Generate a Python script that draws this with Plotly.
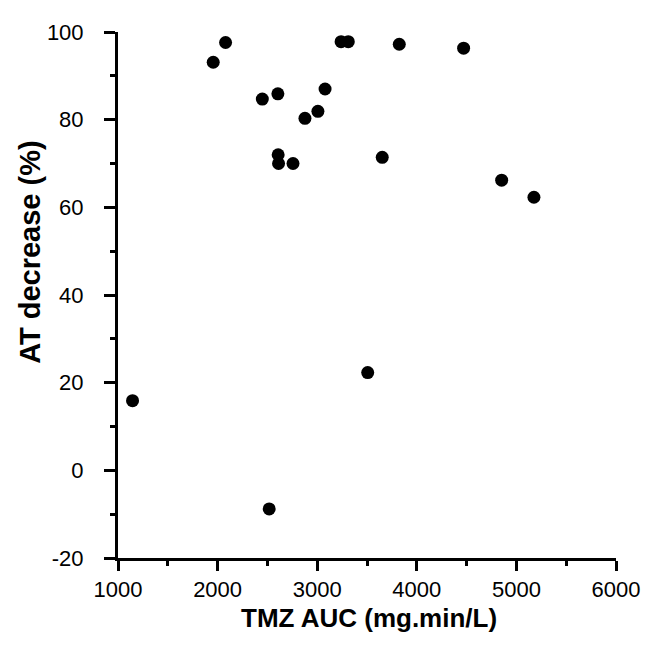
import plotly.graph_objects as go

tmz_auc = [1146, 1956, 2080, 2449, 2518, 2605, 2608, 2612, 2757, 2877,
           3007, 3079, 3240, 3312, 3507, 3653, 3824, 4470, 4852, 5176]
at_decrease = [15.9, 93.1, 97.6, 84.7, -8.8, 85.9, 72.0, 70.0, 70.0, 80.3,
               81.9, 87.0, 97.8, 97.8, 22.3, 71.4, 97.2, 96.3, 66.2, 62.3]

x_ticks = [1000, 2000, 3000, 4000, 5000, 6000]
y_ticks = [-20, 0, 20, 40, 60, 80, 100]

x_title = "TMZ AUC (mg.min/L)"
y_title = "AT decrease (%)"

fig = go.Figure(go.Scatter(
    x=tmz_auc, y=at_decrease, mode="markers",
    marker=dict(color="black", size=13, line=dict(width=0)),
    cliponaxis=False, showlegend=False,
))

font_family = "Liberation Sans, Arial, sans-serif"

# page body has an 8px default margin, so the figure is 8px smaller than the window
fig.update_layout(
    width=644, height=637,
    margin=dict(l=110, r=36, t=12, b=87),
    plot_bgcolor="white", paper_bgcolor="white",
    font=dict(family=font_family, color="black", size=22),
    xaxis=dict(
        range=[1000, 6000], tickvals=x_ticks, ticktext=[str(v) for v in x_ticks],
        showgrid=False, zeroline=False, showline=True, linecolor="black", linewidth=3,
        ticks="outside", ticklen=10, tickwidth=3, tickcolor="black",
        ticklabeloverflow="allow",
        tickfont=dict(size=22, family=font_family, color="black"),
        minor=dict(ticks="outside", ticklen=5, tickwidth=2.5, tickcolor="black", dtick=500, showgrid=False),
    ),
    yaxis=dict(
        range=[-20, 100], tickvals=y_ticks, ticktext=[str(v) for v in y_ticks],
        showgrid=False, zeroline=False, showline=True, linecolor="black", linewidth=3,
        ticks="outside", ticklen=11, tickwidth=3, tickcolor="black",
        ticklabelstandoff=16, ticklabeloverflow="allow",
        tickfont=dict(size=22, family=font_family, color="black"),
        minor=dict(ticks="outside", ticklen=5, tickwidth=2.5, tickcolor="black", dtick=10, showgrid=False),
    ),
    annotations=[
        dict(text="<b>" + x_title + "</b>", xref="paper", yref="paper",
             x=0.504, y=-0.114, xanchor="center", yanchor="middle", showarrow=False,
             font=dict(size=26, family=font_family, color="black")),
        dict(text="<b>" + y_title + "</b>", xref="paper", yref="paper",
             x=-0.1767, y=0.582, xanchor="center", yanchor="middle", textangle=-90, showarrow=False,
             font=dict(size=29, family=font_family, color="black")),
    ],
)

fig.write_html("out.html")
